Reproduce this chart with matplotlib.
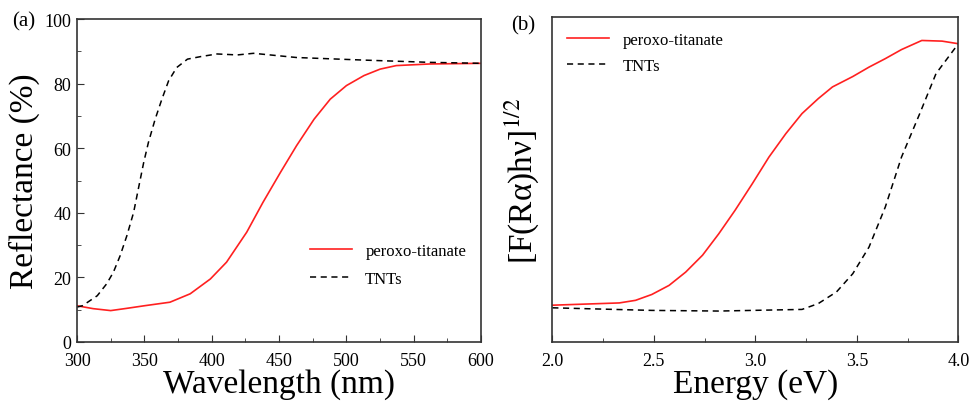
import numpy as np
import matplotlib.pyplot as plt
from matplotlib.ticker import MultipleLocator

plt.rcParams['font.family'] = ['Liberation Serif', 'DejaVu Serif']
plt.rcParams['mathtext.fontset'] = 'stix'

# panel (a): reflectance vs wavelength
wl_tnt = [300, 304, 315, 322, 327, 332, 337, 342, 346, 349.5, 353, 358, 363, 368, 374, 382,
          392, 404, 419, 431, 463, 513, 562, 600]
r_tnt = [10.8, 11.2, 14.3, 18.0, 21.6, 26.7, 32.9, 40.1, 48.4, 55.6, 61.8, 69.0, 75.2, 80.9,
         85.0, 87.6, 88.4, 89.2, 88.9, 89.4, 88.1, 87.3, 86.6, 86.3]
wl_pt = [300, 312, 325, 337, 350, 369, 384, 399, 411, 426, 438, 451, 463, 476, 488, 500,
         513, 525, 537, 562, 600]
r_pt = [11.2, 10.3, 9.7, 10.4, 11.2, 12.3, 14.9, 19.5, 24.7, 34.0, 43.2, 52.5, 60.8, 69.0,
        75.2, 79.4, 82.5, 84.5, 85.6, 86.1, 86.3]

# panel (b): Tauc plot (arbitrary units)
e_pt = [2.0, 2.33, 2.41, 2.49, 2.575, 2.657, 2.74, 2.82, 2.90, 2.985, 3.067, 3.15, 3.23,
        3.31, 3.38, 3.48, 3.56, 3.64, 3.72, 3.82, 3.92, 4.0]
f_pt = [0.113, 0.120, 0.128, 0.146, 0.174, 0.215, 0.267, 0.333, 0.405, 0.487, 0.569, 0.641,
        0.703, 0.749, 0.785, 0.817, 0.846, 0.872, 0.900, 0.928, 0.926, 0.918]
e_tnt = [2.0, 2.49, 2.82, 3.23, 3.31, 3.40, 3.48, 3.56, 3.64, 3.72, 3.81, 3.89, 4.0]
f_tnt = [0.105, 0.097, 0.095, 0.100, 0.118, 0.154, 0.210, 0.292, 0.415, 0.569, 0.703,
         0.826, 0.918]


def style(ax):
    for s in ax.spines.values():
        s.set_color('#333333')
        s.set_linewidth(1.2)
    ax.tick_params(which='both', direction='in', top=False, right=False,
                   labelsize=13, color='#333333', pad=7)
    ax.tick_params(which='major', length=5)
    ax.tick_params(which='minor', length=3)


fig = plt.figure(figsize=(9.69, 4.02), dpi=100)
ax1 = fig.add_axes([0.0795, 0.147, 0.417, 0.803])
ax2 = fig.add_axes([0.570, 0.147, 0.419, 0.808])

ax1.plot(wl_pt, r_pt, color='#ff2020', lw=1.2, label='peroxo-titanate')
ax1.plot(wl_tnt, r_tnt, color='black', lw=1.1, ls=(0, (4, 3)), label='TNTs')
ax1.set_xlim(300, 600)
ax1.set_ylim(0, 100)
ax1.xaxis.set_major_locator(MultipleLocator(50))
ax1.xaxis.set_minor_locator(MultipleLocator(25))
ax1.yaxis.set_major_locator(MultipleLocator(20))
ax1.yaxis.set_minor_locator(MultipleLocator(10))
ax1.set_xlabel('Wavelength (nm)', fontsize=24, labelpad=0)
ax1.set_ylabel('Reflectance (%)', fontsize=24, labelpad=3)
style(ax1)
ax1.tick_params(axis='y', pad=4)
ax1.legend(loc='lower left', bbox_to_anchor=(0.54, 0.125), frameon=False,
           fontsize=12, handlelength=2.5, labelspacing=0.7)
fig.text(0.012, 0.935, '(a)', fontsize=15)

ax2.plot(e_pt, f_pt, color='#ff2020', lw=1.2, label='peroxo-titanate')
ax2.plot(e_tnt, f_tnt, color='black', lw=1.1, ls=(0, (4, 3)), label='TNTs')
ax2.set_xlim(2.0, 4.0)
ax2.set_ylim(0, 1)
ax2.xaxis.set_major_locator(MultipleLocator(0.5))
ax2.xaxis.set_minor_locator(MultipleLocator(0.25))
ax2.xaxis.set_major_formatter(plt.FormatStrFormatter('%.1f'))
ax2.set_yticks([])
ax2.set_xlabel('Energy (eV)', fontsize=24, labelpad=0)
ax2.set_ylabel('[F(Rα)hν]$^{1/2}$', fontsize=24, labelpad=8)
style(ax2)
ax2.legend(loc='upper left', bbox_to_anchor=(0.0, 1.0), frameon=False,
           fontsize=12, handlelength=2.5, labelspacing=0.6)
fig.text(0.527, 0.925, '(b)', fontsize=15)

fig.savefig('out.png', dpi=100)
